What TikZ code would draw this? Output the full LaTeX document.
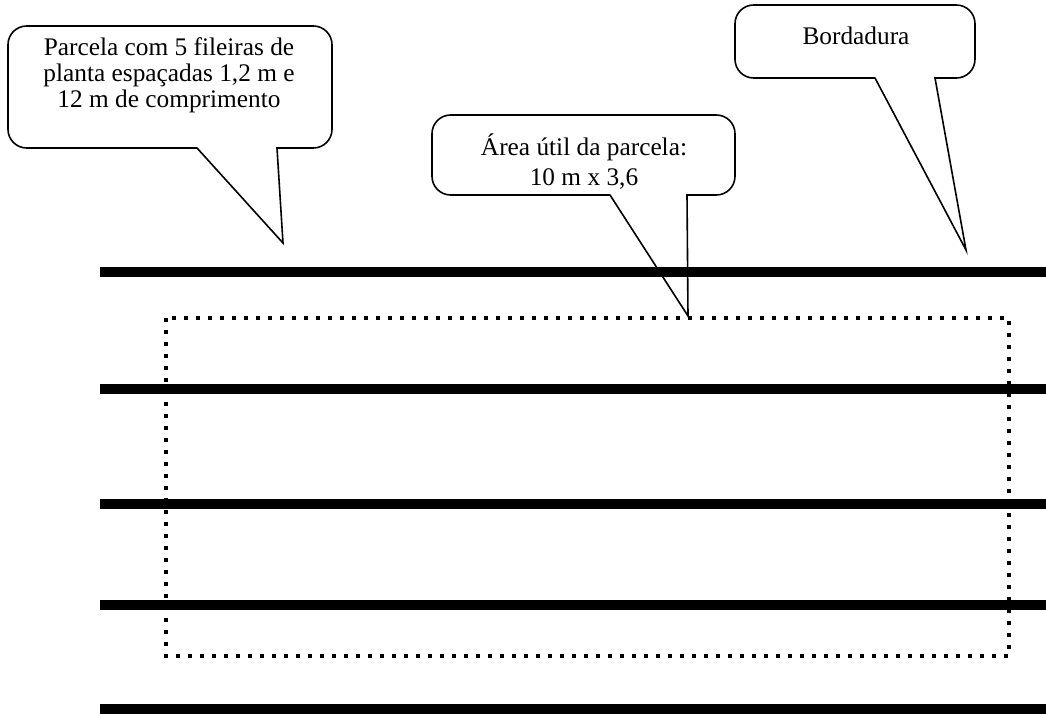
\documentclass[tikz,border=0pt]{standalone}
\usepackage{fontspec}
\setmainfont{Liberation Serif}
\begin{document}
\begin{tikzpicture}[x=0.75pt,y=-0.75pt,
  row/.style={line width=7pt},
  area/.style={line width=3.4pt, dash pattern=on 3pt off 6pt},
  callout/.style={line width=1.2pt, line join=miter},
  lbl/.style={align=center, font=\fontsize{19}{19.5}\selectfont, inner sep=0pt}]
\useasboundingbox (0,0) rectangle (1046,714);
% rows of plants
\foreach \y/\n in {272/r1,389/r2,504/r3,605/r4,709/r5}{
  \coordinate (\n w) at (100,\y);
  \coordinate (\n e) at (1046,\y);
  \draw[row] (\n w) -- (\n e);
}
% useful area
\coordinate (aNW) at (166,318);
\coordinate (aSE) at (1009,656);
\draw[area] (aNW) rectangle (aSE);
% callout 1
\coordinate (t1) at (283,243);
\draw[callout] (197,148) -- (t1) -- (277,148) [rounded corners=14pt] -- (332,148) -- (332,26) -- (8,26) -- (8,148) -- (197,148);
\node[lbl] (c1) at (169,75) {Parcela com 5 fileiras de\\planta espaçadas 1,2 m e\\12 m de comprimento};
% callout 2
\coordinate (t2) at (688,316);
\draw[callout] (610,195) -- (t2) -- (687,195) [rounded corners=14pt] -- (735,195) -- (735,115) -- (432,115) -- (432,195) -- (610,195);
\node[lbl, font=\fontsize{19}{22.5}\selectfont] (c2) at (584,162) {Área útil da parcela:\\10 m x 3,6};
% callout 3
\coordinate (t3) at (966,250);
\draw[callout] (875,78) -- (t3) -- (935,78) [rounded corners=14pt] -- (975,78) -- (975,5) -- (735,5) -- (735,78) -- (875,78);
\node[lbl] (c3) at (856,36) {Bordadura};
\end{tikzpicture}
\end{document}
